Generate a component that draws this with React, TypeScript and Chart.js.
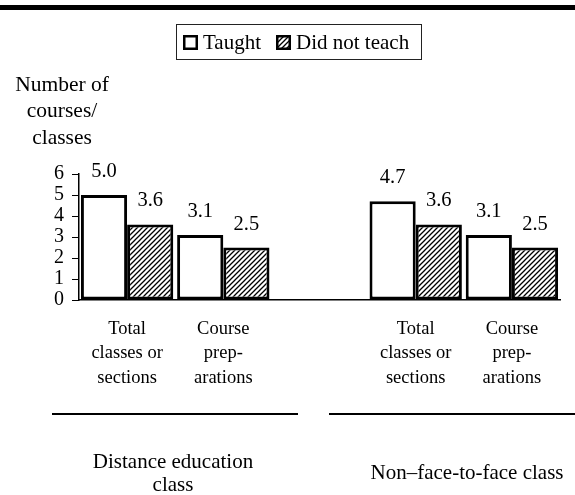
import React, { useEffect, useRef } from 'react';
import { Chart, registerables } from 'chart.js';

Chart.register(...registerables);

// ---- data ----
const categoryLines: string[][] = [
  ['Total', 'classes or', 'sections'],
  ['Course', 'prep-', 'arations'],
  [],
  ['Total', 'classes or', 'sections'],
  ['Course', 'prep-', 'arations'],
];
const taught: (number | null)[] = [5.0, 3.1, null, 4.7, 3.1];
const didNotTeach: (number | null)[] = [3.6, 2.5, null, 3.6, 2.5];
const seriesNames = ['Taught', 'Did not teach'];
const yMin = 0;
const yMax = 6;
const yStep = 1;
const yTitleLines = ['Number of', 'courses/', 'classes'];
const groupTitles: string[][] = [['Distance education', 'class'], ['Non\u2013face-to-face class']];

const FONT = '"Liberation Serif", "Times New Roman", serif';

function makeHatch(): CanvasPattern | string {
  const c = document.createElement('canvas');
  const s = 5;
  c.width = s;
  c.height = s;
  const g = c.getContext('2d');
  if (!g) return '#888';
  g.fillStyle = '#fff';
  g.fillRect(0, 0, s, s);
  g.strokeStyle = '#000';
  g.lineWidth = 1.3;
  g.beginPath();
  g.moveTo(0, s);
  g.lineTo(s, 0);
  g.moveTo(-1, 1);
  g.lineTo(1, -1);
  g.moveTo(s - 1, s + 1);
  g.lineTo(s + 1, s - 1);
  g.stroke();
  return g.createPattern(c, 'repeat') || '#888';
}

export default function App() {
  const ref = useRef<HTMLCanvasElement | null>(null);

  useEffect(() => {
    if (!ref.current) return;
    const hatch = makeHatch();

    const decor = {
      id: 'decor',
      afterDraw(chart: any) {
        const ctx: CanvasRenderingContext2D = chart.ctx;
        const area = chart.chartArea;
        const xs = chart.scales.x;
        ctx.save();
        ctx.fillStyle = '#000';
        ctx.strokeStyle = '#000';

        // top rule
        ctx.fillRect(0, 5, chart.width, 5);

        // legend
        ctx.lineWidth = 1;
        ctx.strokeStyle = '#222';
        ctx.strokeRect(176.5, 24.5, 245, 35);
        ctx.font = `21px ${FONT}`;
        ctx.textBaseline = 'middle';
        ctx.textAlign = 'left';
        const items = [
          { x: 183, fill: '#fff' as any, label: seriesNames[0] },
          { x: 276, fill: hatch as any, label: seriesNames[1] },
        ];
        items.forEach((it) => {
          ctx.fillStyle = it.fill;
          ctx.fillRect(it.x, 35, 15, 15);
          ctx.strokeStyle = '#000';
          ctx.lineWidth = 2.5;
          ctx.strokeRect(it.x + 1.25, 36.25, 12.5, 12.5);
          ctx.fillStyle = '#000';
          ctx.fillText(it.label, it.x + 20, 43);
        });

        // y title
        ctx.font = `21.5px ${FONT}`;
        ctx.textAlign = 'center';
        yTitleLines.forEach((t, i) => ctx.fillText(t, 62, 85 + i * 26.5));

        // data labels
        ctx.font = `20.5px ${FONT}`;
        ctx.textBaseline = 'alphabetic';
        chart.data.datasets.forEach((ds: any, di: number) => {
          const meta = chart.getDatasetMeta(di);
          meta.data.forEach((el: any, i: number) => {
            const v = ds.data[i];
            if (v === null || v === undefined) return;
            ctx.fillText(v.toFixed(1), el.x, el.y - 18);
          });
        });

        // category labels
        ctx.font = `18.5px ${FONT}`;
        ctx.textBaseline = 'middle';
        categoryLines.forEach((lines, i) => {
          const x = xs.getPixelForValue(i);
          lines.forEach((t, k) => ctx.fillText(t, x, area.bottom + 29 + k * 24.5));
        });

        // group rules
        ctx.lineWidth = 2;
        ctx.strokeStyle = '#000';
        ctx.beginPath();
        ctx.moveTo(52, 414);
        ctx.lineTo(298, 414);
        ctx.moveTo(329, 414);
        ctx.lineTo(chart.width, 414);
        ctx.stroke();

        // group titles
        ctx.font = `21px ${FONT}`;
        groupTitles[0].forEach((t, k) => ctx.fillText(t, 173, 462 + k * 23));
        ctx.fillText(groupTitles[1][0], 467, 473);

        ctx.restore();
      },
    };

    const chart = new Chart(ref.current, {
      type: 'bar',
      data: {
        labels: categoryLines.map((l) => l.join(' ')),
        datasets: [
          {
            label: seriesNames[0],
            data: taught,
            backgroundColor: '#fff',
            borderColor: '#000',
            borderWidth: 3,
            borderSkipped: false,
            categoryPercentage: 0.96,
            barPercentage: 1,
          },
          {
            label: seriesNames[1],
            data: didNotTeach,
            backgroundColor: hatch as any,
            borderColor: '#000',
            borderWidth: 3,
            borderSkipped: false,
            categoryPercentage: 0.96,
            barPercentage: 1,
          },
        ],
      },
      options: {
        responsive: false,
        animation: false,
        devicePixelRatio: 1,
        layout: { padding: { top: 174, bottom: 195, left: 0, right: 15 } },
        plugins: {
          legend: { display: false },
          tooltip: { enabled: false },
          title: { display: false },
        },
        scales: {
          x: {
            type: 'category',
            grid: { display: false },
            ticks: { display: false },
            border: { display: true, color: '#000', width: 1.5 },
            afterFit: (s: any) => {
              s.height = 0;
            },
          },
          y: {
            min: yMin,
            max: yMax,
            grid: { display: true, drawOnChartArea: false, drawTicks: true, tickLength: 7, color: '#000', lineWidth: 1 },
            border: { display: true, color: '#000', width: 1.5 },
            ticks: {
              stepSize: yStep,
              autoSkip: false,
              padding: 8,
              color: '#000',
              font: { family: FONT, size: 20 },
            },
            afterFit: (s: any) => {
              s.width = 79;
            },
          },
        },
      },
      plugins: [decor],
    });

    return () => chart.destroy();
  }, []);

  return (
    <div style={{ position: 'fixed', left: 0, top: 0, width: 575, height: 495, background: '#fff' }}>
      <canvas ref={ref} width={575} height={495} style={{ display: 'block' }} />
    </div>
  );
}
